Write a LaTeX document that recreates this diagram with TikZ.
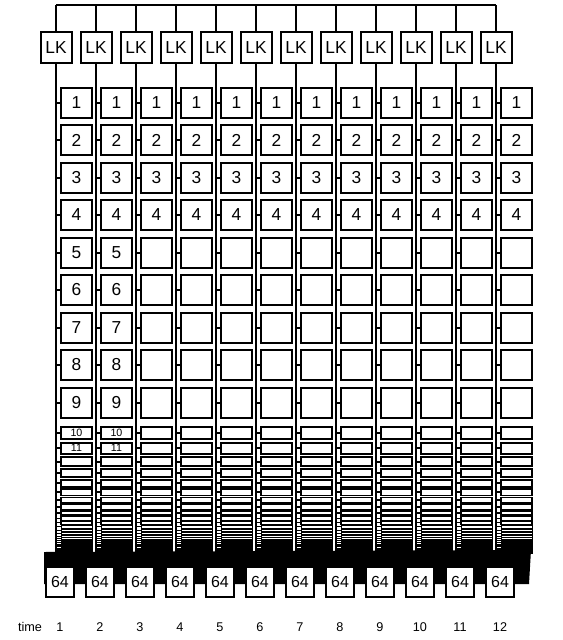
\documentclass[tikz,border=0pt]{standalone}
\usepackage{fontspec}
\setmainfont{Liberation Sans}
\begin{document}
\begin{tikzpicture}[x=0.75pt,y=-0.75pt,
  ln/.style={line width=1.5pt},
  lk/.style={draw,line width=1.5pt,fill=white,rectangle,inner sep=0pt,outer sep=0pt,
    minimum width=31*0.75pt,minimum height=31*0.75pt,font=\fontsize{13}{13}\selectfont},
  cell/.style={draw,line width=1.5pt,fill=white,rectangle,inner sep=0pt,outer sep=0pt,
    minimum width=31*0.75pt,minimum height=30*0.75pt,font=\fontsize{13}{13}\selectfont},
  bot/.style={draw,line width=1.5pt,fill=white,rectangle,inner sep=0pt,outer sep=0pt,
    minimum width=28*0.75pt,minimum height=30*0.75pt,font=\fontsize{12}{12}\selectfont},
  tl/.style={inner sep=0pt,font=\fontsize{9.5}{9.5}\selectfont}]
\useasboundingbox (0,0) rectangle (563,640);
% dark band under the compressed rows
\fill (44,552) -- (531,550) -- (529,584) -- (44,584) -- cycle;
\node[tl] (time) at (30,627) {time};
\foreach \i in {1,...,12}{
  \pgfmathsetmacro\lx{56+40*(\i-1)}
  \coordinate (bus\i) at (\lx,5);
  \node[lk] (lk\i) at (\lx,47.5) {LK};
  \node[bot] (s\i) at (\lx+4,582) {64};
  \node[tl] (t\i) at (\lx+4,627) {\i};
  \draw[ln] (bus\i) -- (lk\i.north);
  \draw[ln] (lk\i.south) -- (lk\i |- s\i.north);
  \foreach \r in {1,...,9}{
    \pgfmathsetmacro\cy{87.5+37.5*(\r-1)+15}
    \pgfmathtruncatemacro\show{(\i<3)||(\r<5)}
    \node[cell] (b\i-\r) at (\lx+20.5,\cy) {\ifnum\show=1 \r\fi};
    \draw[ln] (lk\i |- b\i-\r.west) -- (b\i-\r.west);
  }
  \foreach \k in {10,...,42}{
    \pgfmathsetmacro\p{16*pow(0.875,\k-10)}
    \pgfmathsetmacro\tp{427+16*(1-pow(0.875,\k-10))/0.125}
    \pgfmathsetmacro\h{0.75*\p}
    \pgfmathsetmacro\lw{min(1.5,0.18*\p)}
    \pgfmathtruncatemacro\show{(\i<3)&&(\k<12)}
    \node[cell,minimum height=\h*0.75pt,line width=\lw pt,font=\fontsize{8}{8}\selectfont]
      (c\i-\k) at (\lx+20.5,\tp+\h/2) {\ifnum\show=1 \k\fi};
    \draw[line width=\lw pt] (lk\i |- c\i-\k.west) -- (c\i-\k.west);
  }
}
\draw[ln] (bus1) -- (bus12);
\end{tikzpicture}
\end{document}
